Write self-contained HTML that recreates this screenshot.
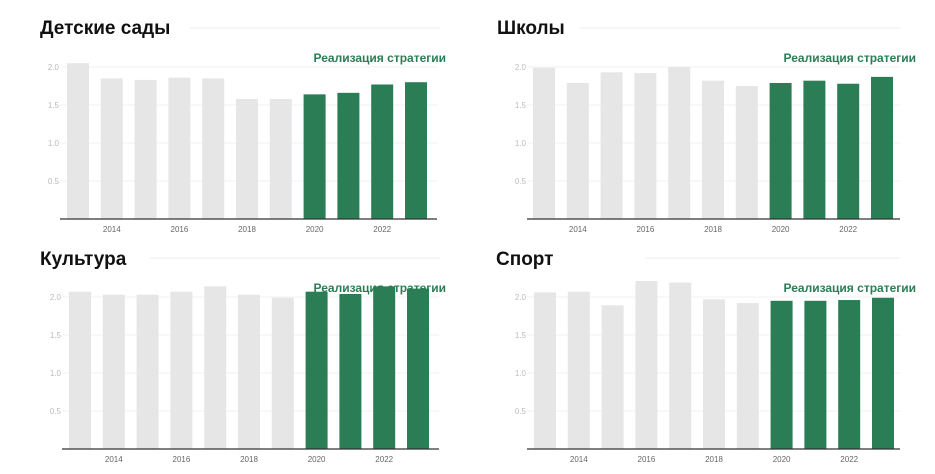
<!DOCTYPE html>
<html><head><meta charset="utf-8"><style>
body{margin:0;width:935px;height:474px;background:#fff;overflow:hidden;font-family:"Liberation Sans","DejaVu Sans",sans-serif}
svg{display:block}
</style></head><body>
<svg id="c" width="935" height="474"></svg>
<script>
const years=[2013,2014,2015,2016,2017,2018,2019,2020,2021,2022,2023];
const tickYears=[2014,2016,2018,2020,2022];
const yTicks=[0.5,1.0,1.5,2.0];
const strategyStart=2020;
const kindergartens=[2.05,1.85,1.83,1.86,1.85,1.58,1.58,1.64,1.66,1.77,1.80];
const schools=[1.99,1.79,1.93,1.92,2.00,1.82,1.75,1.79,1.82,1.78,1.87];
const culture=[2.07,2.03,2.03,2.07,2.14,2.03,1.99,2.07,2.04,2.14,2.11];
const sport=[2.06,2.07,1.89,2.21,2.19,1.97,1.92,1.95,1.95,1.96,1.99];
const titles=["Детские сады","Школы","Культура","Спорт"];
const panelSeries=[kindergartens,schools,culture,sport];
const NS="http://www.w3.org/2000/svg";
const svg=document.getElementById('c');
function mk(tag,attrs,parent){const e=document.createElementNS(NS,tag);for(const k in attrs)e.setAttribute(k,attrs[k]);(parent||svg).appendChild(e);return e;}
const layouts=[
 {tx:40,ty:34,rule:[190,440,28],x0:67,base:219,axL:60,axR:437,lbl:446},
 {tx:497,ty:34,rule:[580,900,28],x0:533,base:219,axL:527,axR:900,lbl:916},
 {tx:40,ty:265,rule:[150,440,258],x0:69,base:449,axL:62,axR:439,lbl:446},
 {tx:496,ty:265,rule:[645,900,258],x0:534,base:449,axL:527,axR:900,lbl:916}];
layouts.forEach((L,p)=>{
 const g=mk('g',{});
 
 
 const pitch=33.8,bw=22,unit=76;
 const xs=y=>L.x0+(y-years[0])*pitch;
 const ys=v=>L.base-v*unit;
 const t=mk('text',{x:L.tx,y:L.ty,'font-size':19,'font-weight':'bold',fill:'#111'},g);t.textContent=titles[p];
 
 
 const r=mk('line',{x1:L.rule[0],x2:L.rule[1],y1:L.rule[2],y2:L.rule[2],stroke:'#eee','stroke-width':1},g);
 
 
 yTicks.forEach(v=>{
  const gl=mk('line',{x1:L.axL,x2:L.axR,y1:ys(v),y2:ys(v),stroke:'#f0f0f0'},g);
  
  
  const tl=mk('text',{x:L.axL-1,y:ys(v)+3,'font-size':8,fill:'#bbb','text-anchor':'end'},g);tl.textContent=v.toFixed(1);
  
  
 });
 panelSeries[p].forEach((v,i)=>{
  const yr=years[i];
  const b=mk('rect',{x:xs(yr),y:ys(v),width:bw,height:v*unit,fill:yr>=strategyStart?'#2b7d55':'#e6e6e6'},g);
  
  
 });
 const ax=mk('line',{x1:L.axL,x2:L.axR,y1:L.base,y2:L.base,stroke:'#333','stroke-width':1.2},g);
 
 
 tickYears.forEach(yr=>{
  const tl=mk('text',{x:xs(yr)+bw/2,y:L.base+13,'font-size':8,fill:'#666','text-anchor':'middle'},g);tl.textContent=yr;
  
  
 });
 const s=mk('text',{x:L.lbl,y:L.base-157,'font-size':12,'font-weight':'bold',fill:'#2b7d55','text-anchor':'end'},g);s.textContent='Реализация стратегии';
 
 
});
</script>
</body></html>
